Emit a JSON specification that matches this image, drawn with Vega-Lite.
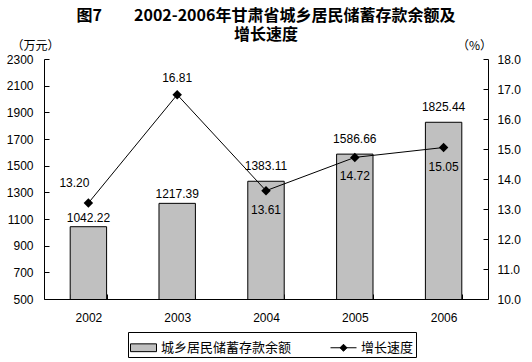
{
  "$schema": "https://vega.github.io/schema/vega-lite/v6.json",
  "width": 444,
  "height": 240,
  "autosize": {"type": "none"},
  "padding": {"left": 44, "top": 59, "right": 44, "bottom": 63},
  "background": "white",
  "title": {
    "text": ["图7　　2002-2006年甘肃省城乡居民储蓄存款余额及", "增长速度"],
    "font": "Noto Sans CJK SC",
    "fontSize": 16,
    "fontWeight": "bold",
    "color": "black",
    "anchor": "middle",
    "lineHeight": 19,
    "offset": -4
  },
  "config": {
    "view": {"stroke": null},
    "axis": {
      "labelFont": "Liberation Sans",
      "labelFontSize": 12,
      "labelColor": "black",
      "domainColor": "black",
      "tickColor": "black",
      "grid": false
    }
  },
  "data": {
    "values": [
      {"year": "2002", "balance": 1042.22, "growth": 13.20},
      {"year": "2003", "balance": 1217.39, "growth": 16.81},
      {"year": "2004", "balance": 1383.11, "growth": 13.61},
      {"year": "2005", "balance": 1586.66, "growth": 14.72},
      {"year": "2006", "balance": 1825.44, "growth": 15.05}
    ]
  },
  "layer": [
    {
      "encoding": {
        "x": {
          "field": "year",
          "type": "nominal",
          "scale": {"paddingInner": 0.59, "paddingOuter": 0.295},
          "axis": {
            "title": null,
            "labelAngle": 0,
            "tickBand": "extent",
            "tickSize": -5,
            "labelPadding": 18
          }
        },
        "y": {
          "field": "balance",
          "type": "quantitative",
          "scale": {"domain": [500, 2300]},
          "axis": {
            "title": "（万元）",
            "titleAngle": 0,
            "titleX": -9,
            "titleY": -14,
            "titleAlign": "center",
            "titleBaseline": "middle",
            "titleFont": "Noto Sans CJK SC",
            "titleFontSize": 12,
            "titleFontWeight": "normal",
            "titleColor": "black",
            "values": [500, 700, 900, 1100, 1300, 1500, 1700, 1900, 2100, 2300],
            "format": "d",
            "tickSize": -5,
            "labelPadding": 16
          }
        }
      },
      "layer": [
        {
          "mark": {"type": "bar", "stroke": "black", "strokeWidth": 1, "clip": true},
          "encoding": {
            "fill": {
              "datum": "城乡居民储蓄存款余额",
              "scale": {"domain": ["城乡居民储蓄存款余额", "增长速度"], "range": ["#c0c0c0", "#000000"]},
              "legend": {
                "orient": "none",
                "legendX": 84,
                "legendY": 273,
                "direction": "horizontal",
                "title": null,
                "strokeColor": "black",
                "padding": 2,
                "labelFont": "Noto Sans CJK SC",
                "labelFontSize": 13,
                "labelColor": "black",
                "symbolSize": 676,
                "symbolStrokeColor": "black",
                "symbolStrokeWidth": 1,
                "columnPadding": 36,
                "labelOffset": 4,
                "encode": {
                  "symbols": {
                    "update": {
                      "shape": {"signal": "datum.value === '增长速度' ? 'M-1,0H1M-0.27,0L0,-0.27L0.27,0L0,0.27Z' : 'M-1,-0.3H1V0.3H-1Z'"},
                      "stroke": {"value": "black"},
                      "strokeWidth": {"value": 1}
                    }
                  }
                }
              }
            }
          }
        },
        {
          "transform": [{"filter": "datum.year === '2002' || datum.year === '2003'"}],
          "mark": {"type": "text", "font": "Liberation Sans", "fontSize": 12, "color": "black", "dy": -9},
          "encoding": {"text": {"field": "balance", "type": "quantitative", "format": ".2f"}}
        },
        {
          "transform": [{"filter": "datum.year !== '2002' && datum.year !== '2003'"}],
          "mark": {"type": "text", "font": "Liberation Sans", "fontSize": 12, "color": "black", "dy": -15},
          "encoding": {"text": {"field": "balance", "type": "quantitative", "format": ".2f"}}
        }
      ]
    },
    {
      "encoding": {
        "x": {"field": "year", "type": "nominal"},
        "y": {
          "field": "growth",
          "type": "quantitative",
          "scale": {"domain": [10, 18]},
          "axis": {
            "orient": "right",
            "title": "（%）",
            "titleAngle": 0,
            "titleX": -14,
            "titleY": -14,
            "titleAlign": "center",
            "titleBaseline": "middle",
            "titleFont": "Noto Sans CJK SC",
            "titleFontSize": 12,
            "titleFontWeight": "normal",
            "titleColor": "black",
            "values": [10, 11, 12, 13, 14, 15, 16, 17, 18],
            "format": ".1f",
            "tickSize": -5,
            "labelPadding": 14
          }
        }
      },
      "layer": [
        {"mark": {"type": "line", "color": "black", "strokeWidth": 1}},
        {"mark": {"type": "point", "shape": "diamond", "filled": true, "color": "black", "size": 90, "opacity": 1}},
        {
          "transform": [{"filter": "datum.year === '2002'"}],
          "mark": {"type": "text", "font": "Liberation Sans", "fontSize": 12, "color": "black", "dx": -14, "dy": -20},
          "encoding": {"text": {"field": "growth", "type": "quantitative", "format": ".2f"}}
        },
        {
          "transform": [{"filter": "datum.year === '2003'"}],
          "mark": {"type": "text", "font": "Liberation Sans", "fontSize": 12, "color": "black", "dy": -17},
          "encoding": {"text": {"field": "growth", "type": "quantitative", "format": ".2f"}}
        },
        {
          "transform": [{"filter": "datum.year !== '2002' && datum.year !== '2003'"}],
          "mark": {"type": "text", "font": "Liberation Sans", "fontSize": 12, "color": "black", "dy": 19},
          "encoding": {"text": {"field": "growth", "type": "quantitative", "format": ".2f"}}
        }
      ]
    }
  ],
  "resolve": {"scale": {"y": "independent"}}
}
